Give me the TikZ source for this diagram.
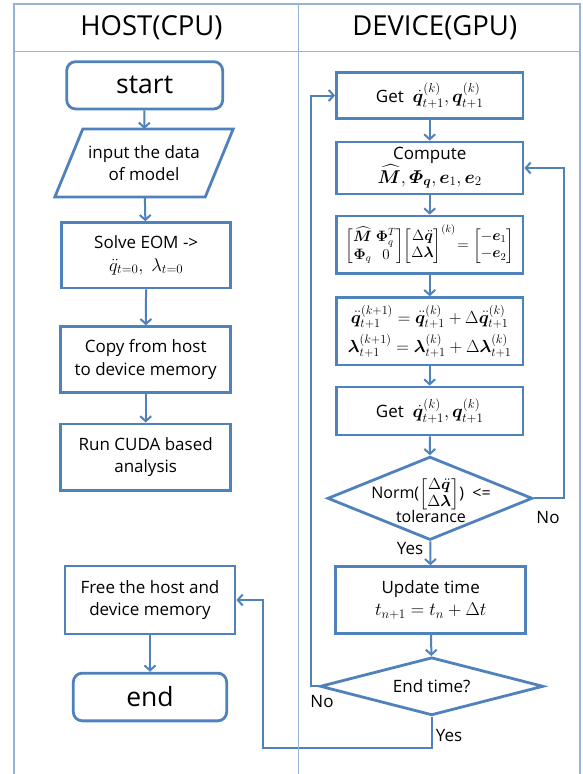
\RequirePackage{fix-cm}
\documentclass[tikz,border=0pt]{standalone}
\usepackage{amsmath,bm}
\usepackage{fontspec}
\setmainfont{Open Sans}
\usetikzlibrary{arrows.meta,shapes.geometric,calc}

\definecolor{boxblue}{HTML}{4F81BD}
\definecolor{gridblue}{HTML}{95B3D7}

% inline formula set a little larger than the surrounding sans text
\newcommand{\fml}[1]{{\fontsize{18.5}{20}\selectfont$#1$}}

\tikzset{
  grid/.style={draw=gridblue, line width=1.5pt},
  proc/.style={draw=boxblue, line width=2.8pt, rectangle, align=center,
    inner sep=0pt, font=\fontsize{17}{22.5}\selectfont},
  term/.style={proc, rounded corners=9pt, font=\fontsize{26.5}{30}\selectfont},
  decide/.style={draw=boxblue, line width=2.8pt, diamond, inner sep=0pt},
  plain/.style={align=center, inner sep=0pt, font=\fontsize{17}{22}\selectfont},
  lbl/.style={inner sep=0pt, font=\fontsize{17}{20}\selectfont},
  head/.style={inner sep=0pt, font=\fontsize{27.5}{30}\selectfont},
  arr/.style={draw=boxblue, line width=2pt, -{Straight Barb[length=5pt,width=11pt]}}
}

\begin{document}
\begin{tikzpicture}[x=1pt, y=-1pt]
\useasboundingbox (0,0) rectangle (583,774);

% table frame
\draw[grid] (14,774) -- (14,4) -- (580,4) -- (580,774);
\draw[grid] (14,51.7) -- (580,51.7);

\node[head] (hhost) at (151.5,28) {HOST(CPU)};
\node[head] (hdev) at (434.7,28) {DEVICE(GPU)};

% host column
\node[term, minimum width=156pt, minimum height=47.3pt] (start) at (144.7,85.3) {start};
\node[plain, minimum width=150pt, minimum height=67.7pt] (inp) at (144,163) {input the data\\of model};
\draw[boxblue, line width=2.8pt, line join=miter]
  ([xshift=-14pt]inp.south west) -- ([xshift=14pt]inp.north west)
  -- ([xshift=14pt]inp.north east) -- ([xshift=-14pt]inp.south east) -- cycle;
\node[proc, minimum width=169pt, minimum height=65.3pt] (eom) at (146.2,255.3)
  {Solve EOM ->\\\fml{\ddot{q}_{t=0},\ \lambda_{t=0}}};
\node[proc, minimum width=170pt, minimum height=66pt] (copy) at (145.7,359.7)
  {Copy from host\\to device memory};
\node[proc, minimum width=170pt, minimum height=66.7pt] (cuda) at (145.7,457.3)
  {Run CUDA based\\analysis};
\node[proc, minimum width=170pt, minimum height=68pt] (free) at (150,600)
  {Free the host and\\device memory};
\node[term, minimum width=153.4pt, minimum height=47.7pt] (end) at (150,697) {end};

% device column
\node[proc, minimum width=186.5pt, minimum height=45.6pt] (get1) at (429.7,95.5)
  {Get\ \ \fml{\dot{\bm q}^{(k)}_{t+1}, \bm q^{(k)}_{t+1}}};
\node[proc, minimum width=186.5pt, minimum height=52pt, font=\fontsize{17}{20}\selectfont]
  (comp) at (429.7,168)
  {Compute\\\fml{\widehat{\bm M}, \bm{\varPhi}_{\bm q}, \bm e_1, \bm e_2}};
\node[proc, minimum width=186.5pt, minimum height=57.3pt,
  font=\fontsize{15}{18}\selectfont] (mat) at (429.7,244.7)
  {\arraycolsep=2pt\renewcommand{\arraystretch}{0.95}%
   $\begin{bmatrix}\widehat{\bm M} & \bm\Phi_q^T\\ \bm\Phi_q & 0\end{bmatrix}\!
    \begin{bmatrix}\Delta\ddot{\bm q}\\ \Delta\bm\lambda\end{bmatrix}^{(k)}
    \!= \begin{bmatrix}-\bm e_1\\ -\bm e_2\end{bmatrix}$};
\node[proc, minimum width=186.5pt, minimum height=67.3pt,
  font=\fontsize{17.5}{29}\selectfont] (upd) at (429.7,331.3)
  {$\ddot{\bm q}^{(k+1)}_{t+1} = \ddot{\bm q}^{(k)}_{t+1} + \Delta\ddot{\bm q}^{(k)}_{t+1}$\\
   $\bm\lambda^{(k+1)}_{t+1} = \bm\lambda^{(k)}_{t+1} + \Delta\bm\lambda^{(k)}_{t+1}$};
\node[proc, minimum width=186.5pt, minimum height=48pt] (get2) at (429.7,411)
  {Get\ \ \fml{\dot{\bm q}^{(k)}_{t+1}, \bm q^{(k)}_{t+1}}};
\node[decide, minimum width=205pt, minimum height=83.4pt] (norm) at (430,498.3) {};
\node[plain, font=\fontsize{16}{20}\selectfont] (normtxt) at (431,500)
  {Norm(\arraycolsep=1pt\renewcommand{\arraystretch}{0.85}%
   $\begin{bmatrix}\Delta\ddot{\bm q}\\ \Delta\bm\lambda\end{bmatrix}$)\ \ <=\\[-3pt]tolerance};
\node[proc, minimum width=190pt, minimum height=66.6pt] (time) at (430.7,600)
  {Update time\\\fml{t_{n+1} = t_n + \Delta t}};
\node[decide, minimum width=223.3pt, minimum height=58pt] (endq) at (431.7,686.3) {};
\node[plain] (endtxt) at (431.7,686.3) {End time?};

% host flow
\draw[arr] (start) -- (inp);
\draw[arr] (inp) -- (eom);
\draw[arr] (eom) -- (copy);
\draw[arr] (copy) -- (cuda);
\draw[arr] (free) -- (end);

% device flow
\draw[arr] (get1) -- (comp);
\draw[arr] (comp) -- (mat);
\draw[arr] (mat) -- (upd);
\draw[arr] (upd) -- (get2);
\draw[arr] (get2) -- (norm);
\draw[arr] (norm) -- (time);
\draw[arr] (time) -- (endq);

% loops
\draw[arr] (norm.east) -- ++(30.2,0) |- (comp.east);
\draw[arr] (endq.west) -- ++(-7.3,0) |- (get1.west);
\draw[arr] (endq.south) -- ++(0,31.4) -| (262.7,600) -- (free.east);

\node[lbl] (nolbl1) at (548,518) {No};
\node[lbl] (yeslbl1) at (410,549) {Yes};
\node[lbl] (nolbl2) at (322,702) {No};
\node[lbl] (yeslbl2) at (449,736) {Yes};

% column divider
\draw[grid] (298.3,4) -- (298.3,774);
\end{tikzpicture}
\end{document}
